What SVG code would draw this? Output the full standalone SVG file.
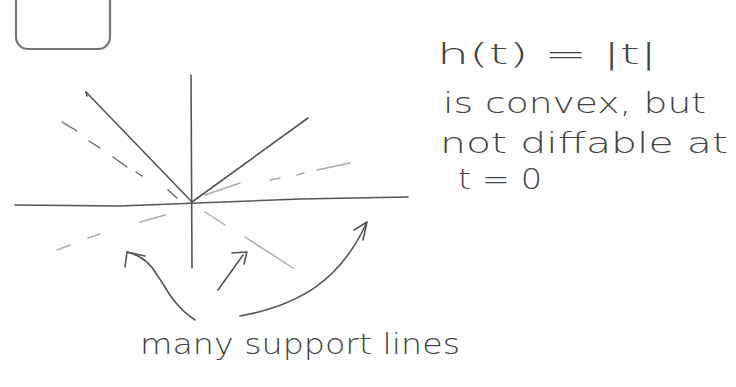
<svg xmlns="http://www.w3.org/2000/svg" width="736" height="387" viewBox="0 0 736 387">
<style>
.ink{fill:none;stroke:#555;stroke-width:1.6;stroke-linecap:round;stroke-linejoin:round}
.faint{fill:none;stroke:#aaa;stroke-width:1.4;stroke-linecap:round}
.dash{fill:none;stroke:#666;stroke-width:1.4;stroke-linecap:round}
.txt{font-family:"DejaVu Sans","Liberation Sans",sans-serif;font-size:29px;fill:#444;font-weight:300}
</style>
<rect width="736" height="387" fill="#fff"/>
<g id="box">
<path d="M16,-2 V37 A12,12 0 0 0 28,49 H98 A12,12 0 0 0 110,37 V-2" fill="none" stroke="#777" stroke-width="2.2"/>
</g>
<g id="axes">
<line class="ink" x1="191" y1="75" x2="192" y2="268" stroke="#777"/>
<path class="ink" d="M15,205 L120,206 L300,199 L408,197"/>
</g>
<g id="graph">
<path class="ink" d="M86,92 L192,202 L308,118"/>
<path class="ink" d="M86,92 l1,4"/>
</g>
<g id="support-lines">
<path class="dash" d="M62,122 L77,131 M89,141 L100,148 M113,157 L127,167 M136,172 L142,176 M168,190 L177,198"/>
<path class="faint" d="M205,195 L240,183 M270,180 L280,178 M297,175 L304,173 M317,170 L350,163"/>
<path class="faint" d="M57,250 L70,245 M88,238 L100,234 M140,222 L165,215"/>
<path class="faint" d="M205,212 L225,225 M245,237 L293,268"/>
</g>
<g id="connectors">
<path class="ink" d="M195,320 C172,305 165,285 157,275 C150,262 140,255 127,252"/>
<path class="ink" d="M125,267 L127,252 L145,256"/>
<path class="ink" d="M218,290 L243,255"/>
<path class="ink" d="M232,253 L247,252 L244,264"/>
<path class="ink" d="M240,316 C300,305 340,280 366,224"/>
<path class="ink" d="M354,230 L367,222 L363,240"/>
</g>
<g id="labels">
<text class="txt" x="140" y="354" textLength="320" lengthAdjust="spacingAndGlyphs">many support lines</text>
<text class="txt" x="437" y="64" textLength="220" lengthAdjust="spacingAndGlyphs">h(t) = |t|</text>
<text class="txt" x="443" y="113" textLength="263" lengthAdjust="spacingAndGlyphs">is convex, but</text>
<text class="txt" x="440" y="153" textLength="288" lengthAdjust="spacingAndGlyphs">not diffable at</text>
<text class="txt" x="458" y="189" textLength="84" lengthAdjust="spacingAndGlyphs">t = 0</text>
</g>
</svg>
